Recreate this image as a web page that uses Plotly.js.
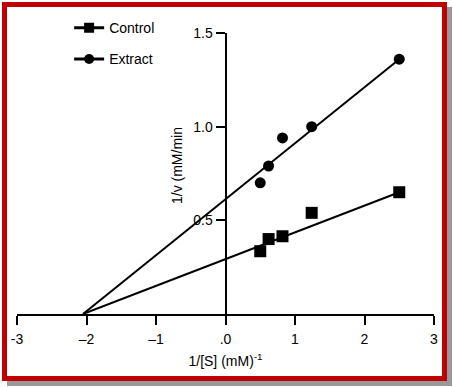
<!DOCTYPE html>
<html>
<head>
<meta charset="utf-8">
<script src="https://cdn.plot.ly/plotly-3.0.1.min.js"></script>
<style>
  html, body { margin: 0; padding: 0; background: #ffffff; }
  #wrap { position: relative; width: 453px; height: 387px; overflow: hidden; background: #fff; }
  #chart { position: absolute; left: 0; top: 0; width: 453px; height: 387px; }
  #frame { position: absolute; left: 2px; top: 2px; width: 435px; height: 369px;
           border: 5px solid #c00000; box-shadow: 5px 5px 0 0 #999999; pointer-events: none; }
</style>
</head>
<body>
<div id="wrap">
  <div id="chart"></div>
  <div id="frame"></div>
</div>
<script>
// 1/[S] values (mM^-1)
const invS = [0.5, 0.62, 0.82, 1.24, 2.5];
// 1/v values
const controlInvV = [0.335, 0.40, 0.415, 0.54, 0.65];
const extractInvV = [0.70, 0.79, 0.94, 1.00, 1.36];
// fitted lines (end points)
const fitX = [-2.05, 2.5];
const controlFit = [0, 0.65];
const extractFit = [0, 1.36];
// tick labels
const xTickVals = [-3, -2, -1, 0, 1, 2, 3];
const xTickText = ["-3", "\u20132", "\u20131", ".0", "1", "2", "3"];
const yTickVals = [0.5, 1.0, 1.5];
const yTickText = ["0.5", "1.0", "1.5"];

const font = {family: "Liberation Sans, Arial, sans-serif", size: 14, color: "#000"};

const traces = [
  {x: fitX, y: controlFit, mode: "lines", line: {color: "#000", width: 2}, showlegend: false, hoverinfo: "skip"},
  {x: fitX, y: extractFit, mode: "lines", line: {color: "#000", width: 2}, showlegend: false, hoverinfo: "skip"},
  {x: invS, y: controlInvV, mode: "markers", marker: {symbol: "square", size: 12, color: "#000"}, showlegend: false},
  {x: invS, y: extractInvV, mode: "markers", marker: {symbol: "circle", size: 11, color: "#000"}, showlegend: false},
  {x: [null], y: [null], name: "Control", legendgroup: "c", mode: "lines+markers",
   line: {color: "#000", width: 3}, marker: {symbol: "square", size: 10, color: "#000"}},
  {x: [null], y: [null], name: "Extract", legendgroup: "e", mode: "lines+markers",
   line: {color: "#000", width: 3}, marker: {symbol: "circle", size: 10, color: "#000"}}
];

const layout = {
  width: 453, height: 387,
  margin: {l: 17, r: 19, t: 33, b: 73, pad: 0},
  paper_bgcolor: "#fff", plot_bgcolor: "#fff",
  font: font,
  showlegend: true,
  legend: {x: 0.125, y: 1.074, xanchor: "left", yanchor: "top", bgcolor: "rgba(0,0,0,0)",
           font: font, tracegroupgap: 10, itemwidth: 30},
  xaxis: {
    range: [-3, 3], showgrid: false, zeroline: false,
    showline: true, linecolor: "#000", linewidth: 2,
    ticks: "outside", ticklen: 9, tickwidth: 2, tickcolor: "#000",
    tickvals: xTickVals, ticktext: xTickText, tickfont: font,
    ticklabelstandoff: 2,
    title: {text: "1/[S] (mM)<sup>-1</sup>", font: font, standoff: 10}
  },
  yaxis: {
    range: [0, 1.5], showgrid: false, zeroline: false,
    anchor: "free", position: 0.5,
    showline: true, linecolor: "#000", linewidth: 2,
    ticks: "outside", ticklen: 9, tickwidth: 2, tickcolor: "#000",
    tickvals: yTickVals, ticktext: yTickText, tickfont: font
  },
  annotations: [
    {text: "1/v (mM/min", xref: "paper", yref: "paper", x: 0.384, y: 0.527,
     textangle: -90, showarrow: false, font: font, xanchor: "center", yanchor: "middle"}
  ]
};

Plotly.newPlot("chart", traces, layout, {displayModeBar: false, staticPlot: true});
</script>
</body>
</html>
